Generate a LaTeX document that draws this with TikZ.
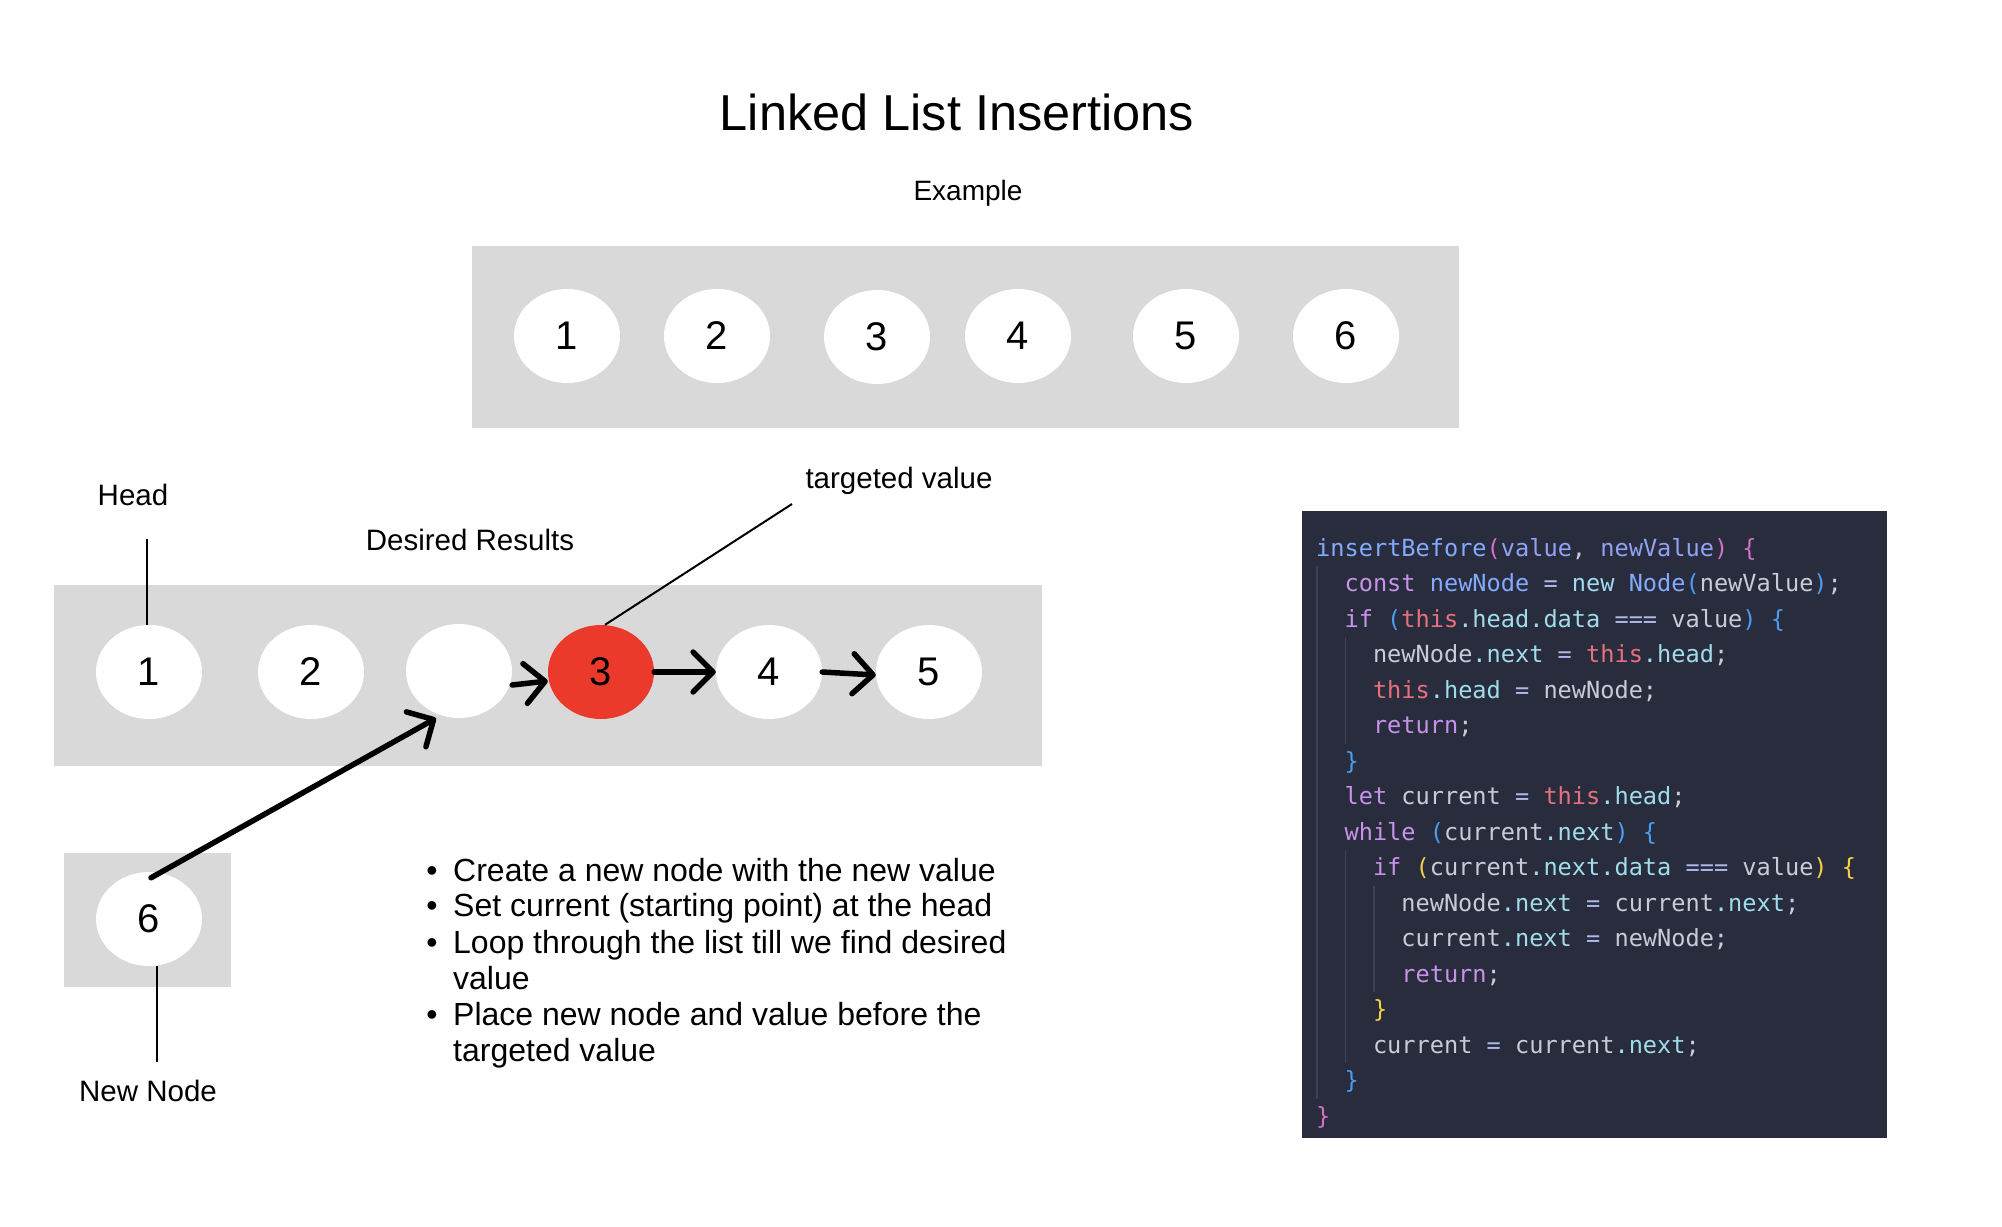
\documentclass[tikz,border=0pt]{standalone}
\usepackage{fontspec}
\setmainfont{Liberation Sans}
\newfontfamily\codefont{DejaVu Sans Mono}
\usetikzlibrary{arrows.meta,shapes.geometric}
\definecolor{panel}{HTML}{D9D9D9}
\definecolor{redn}{HTML}{EB3A2C}
\definecolor{codebg}{HTML}{292C3C}
\definecolor{cguide}{HTML}{3D4152}
\definecolor{kfn}{HTML}{82AAFF}
\definecolor{kpa}{HTML}{8FA2F5}
\definecolor{kkw}{HTML}{C792EA}
\definecolor{knw}{HTML}{9EDCF2}
\definecolor{kth}{HTML}{E8707E}
\definecolor{kpr}{HTML}{A0DDEC}
\definecolor{kop}{HTML}{AEB8EC}
\definecolor{ktx}{HTML}{C8CCD6}
\definecolor{kbA}{HTML}{D46FC6}
\definecolor{kbB}{HTML}{4A9DF0}
\definecolor{kbC}{HTML}{F5D04A}
\newcommand{\kFn}[1]{\textcolor{kfn}{#1}}
\newcommand{\kPa}[1]{\textcolor{kpa}{#1}}
\newcommand{\kKw}[1]{\textcolor{kkw}{#1}}
\newcommand{\kNw}[1]{\textcolor{knw}{#1}}
\newcommand{\kTh}[1]{\textcolor{kth}{#1}}
\newcommand{\kPr}[1]{\textcolor{kpr}{#1}}
\newcommand{\kOp}[1]{\textcolor{kop}{#1}}
\newcommand{\kTx}[1]{\textcolor{ktx}{#1}}
\newcommand{\kBa}[1]{\textcolor{kbA}{#1}}
\newcommand{\kBb}[1]{\textcolor{kbB}{#1}}
\newcommand{\kBc}[1]{\textcolor{kbC}{#1}}
\tikzset{
  lnode/.style={shape=ellipse, fill=white, minimum width=106pt, minimum height=94pt, inner sep=0pt, font=\fontsize{40}{40}\selectfont},
  lbl/.style={font=\fontsize{29.5}{34}\selectfont, inner sep=0pt, anchor=base},
  btxt/.style={font=\fontsize{32}{36}\selectfont, inner sep=0pt, anchor=base west},
  bdot/.style={font=\fontsize{32}{36}\selectfont, inner sep=0pt, anchor=base},
  arr/.style={line width=5.5pt, line cap=round, -{Straight Barb[length=20pt,width=40pt,round]}},
  thinln/.style={line width=2pt},
  codeln/.style={anchor=base west, inner sep=0pt, font=\codefont\fontsize{23.6}{28}\selectfont, text=ktx},
  guide/.style={draw=cguide, line width=1.5pt}
}
\begin{document}
\begin{tikzpicture}[x=1pt,y=-1pt]
\useasboundingbox (0,0) rectangle (2002,1226);
\fill[white] (0,0) rectangle (2002,1226);
% title
\node[font=\fontsize{50.5}{56}\selectfont, inner sep=0pt, anchor=base] (title) at (957,130) {Linked List Insertions};
\node[lbl, font=\fontsize{28}{32}\selectfont] (example) at (968,200) {Example};
% top panel
\fill[panel] (472,246) rectangle (1459,428);
\node[lnode] (t1) at (567,336) {1};
\node[lnode] (t2) at (717,336) {2};
\node[lnode] (t3) at (877,337) {3};
\node[lnode] (t4) at (1018,336) {4};
\node[lnode] (t5) at (1186,336) {5};
\node[lnode] (t6) at (1346,336) {6};
% labels
\node[lbl] (head) at (133,505) {Head};
\node[lbl] (desired) at (470,550) {Desired Results};
\node[lbl] (targeted) at (899,488) {targeted value};
% bottom panel
\fill[panel] (54,585) rectangle (1042,766);
\node[lnode] (b1) at (149,672) {1};
\node[lnode] (b2) at (311,672) {2};
\node[lnode] (blank) at (459,671) {};
\node[lnode, fill=redn] (red) at (601,672) {3};
\node[lnode] (b4) at (769,672) {4};
\node[lnode] (b5) at (929,672) {5};
% new node panel
\fill[panel] (64,853) rectangle (231,987);
\node[lnode] (six) at (149,919) {6};
\node[lbl] (newnode) at (148,1101) {New Node};
% label lines
\coordinate (headend) at (147,539);
\draw[thinln] (headend) -- (headend |- b1.north);
\coordinate (tgtend) at (792,504);
\draw[thinln] (tgtend) -- ([xshift=4pt]red.north);
\coordinate (nnend) at (157,1062);
\draw[thinln] (six.south -| nnend) -- (nnend);
% arrows
\draw[arr] ([yshift=-14pt]blank.east) -- ([yshift=-9pt]red.west);
\draw[arr] (red.east) -- (b4.west);
\draw[arr] (b4.east) -- ([yshift=-3pt]b5.west);
\draw[arr] ([xshift=2pt,yshift=-6pt]six.north) -- ([xshift=-23pt]blank.south);
% bullets
\node[bdot] (d1) at (432,881) {•};
\node[btxt] (l1) at (453,881) {Create a new node with the new value};
\node[bdot] (d2) at (432,916) {•};
\node[btxt] (l2) at (453,916) {Set current (starting point) at the head};
\node[bdot] (d3) at (432,953) {•};
\node[btxt] (l3) at (453,953) {Loop through the list till we find desired};
\node[btxt] (l3b) at (453,989) {value};
\node[bdot] (d4) at (432,1025) {•};
\node[btxt] (l4) at (453,1025) {Place new node and value before the};
\node[btxt] (l4b) at (453,1061) {targeted value};
% code panel
\fill[codebg] (1302,511) rectangle (1887,1138);
\draw[guide] (1317,566) -- (1317,1099);
\draw[guide] (1345.4,637) -- (1345.4,744);
\draw[guide] (1345.4,850) -- (1345.4,1063);
\draw[guide] (1373.8,886) -- (1373.8,992);
\node[codeln] (c1) at (1316,556) {\kFn{insertBefore}\kBa{(}\kPa{value}\kTx{,} \kPa{newValue}\kBa{)} \kBa{\{}};
\node[codeln] (c2) at (1344.4,591.5) {\kKw{const} \kFn{newNode} \kOp{=} \kNw{new} \kFn{Node}\kBb{(}\kTx{newValue}\kBb{)}\kTx{;}};
\node[codeln] (c3) at (1344.4,627) {\kKw{if} \kBb{(}\kTh{this}\kPr{.head.data} \kOp{===} \kTx{value}\kBb{)} \kBb{\{}};
\node[codeln] (c4) at (1372.8,662.5) {\kTx{newNode}\kPr{.next} \kOp{=} \kTh{this}\kPr{.head}\kTx{;}};
\node[codeln] (c5) at (1372.8,698) {\kTh{this}\kPr{.head} \kOp{=} \kTx{newNode;}};
\node[codeln] (c6) at (1372.8,733.5) {\kKw{return}\kTx{;}};
\node[codeln] (c7) at (1344.4,769) {\kBb{\}}};
\node[codeln] (c8) at (1344.4,804.5) {\kKw{let} \kTx{current} \kOp{=} \kTh{this}\kPr{.head}\kTx{;}};
\node[codeln] (c9) at (1344.4,840) {\kKw{while} \kBb{(}\kTx{current}\kPr{.next}\kBb{)} \kBb{\{}};
\node[codeln] (c10) at (1372.8,875.5) {\kKw{if} \kBc{(}\kTx{current}\kPr{.next.data} \kOp{===} \kTx{value}\kBc{)} \kBc{\{}};
\node[codeln] (c11) at (1401.2,911) {\kTx{newNode}\kPr{.next} \kOp{=} \kTx{current}\kPr{.next}\kTx{;}};
\node[codeln] (c12) at (1401.2,946.5) {\kTx{current}\kPr{.next} \kOp{=} \kTx{newNode;}};
\node[codeln] (c13) at (1401.2,982) {\kKw{return}\kTx{;}};
\node[codeln] (c14) at (1372.8,1017.5) {\kBc{\}}};
\node[codeln] (c15) at (1372.8,1053) {\kTx{current} \kOp{=} \kTx{current}\kPr{.next}\kTx{;}};
\node[codeln] (c16) at (1344.4,1088.5) {\kBb{\}}};
\node[codeln] (c17) at (1316,1124) {\kBa{\}}};
\end{tikzpicture}
\end{document}
